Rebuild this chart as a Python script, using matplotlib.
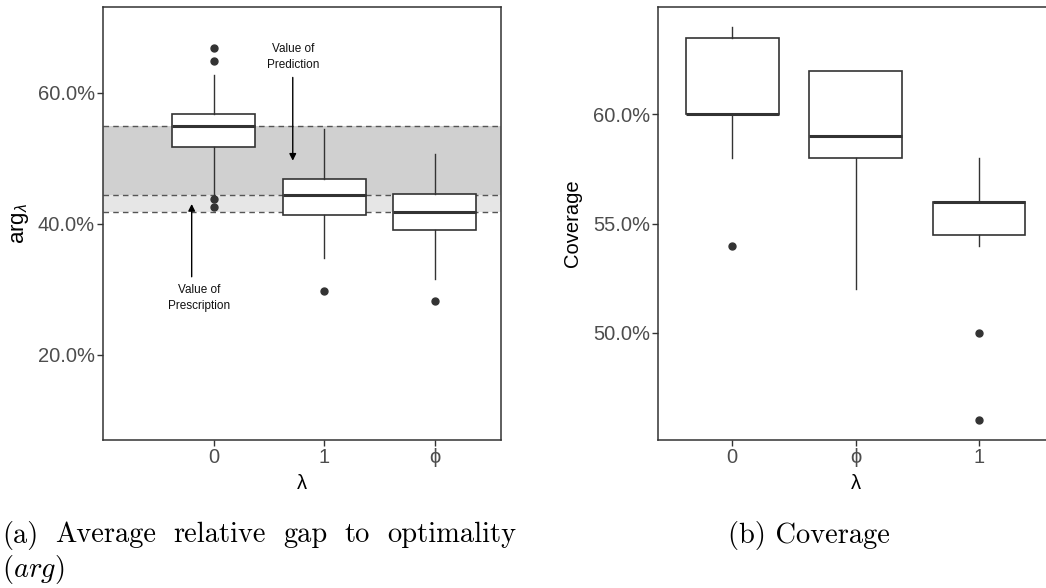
import matplotlib
matplotlib.use("Agg")
import matplotlib.pyplot as plt
from matplotlib.ticker import FuncFormatter

plt.rcParams['font.family'] = ['Liberation Sans', 'DejaVu Sans']
plt.rcParams['mathtext.fontset'] = 'custom'
plt.rcParams['mathtext.rm'] = 'Liberation Sans'
plt.rcParams['mathtext.it'] = 'Liberation Sans:italic'

# ---------------- data (values in %) ----------------
arg_labels = ["0", "1", "\u03d5"]
arg_q1 = [51.7, 41.3, 39.1]
arg_med = [54.9, 44.4, 41.8]
arg_q3 = [56.8, 46.8, 44.5]
arg_whislo = [44.2, 34.7, 31.6]
arg_whishi = [62.7, 54.5, 50.7]
arg_fliers = [[66.8, 64.8, 43.7, 42.6], [29.7], [28.2]]
arg_yticks = [20, 40, 60]

cov_labels = ["0", "\u03d5", "1"]
cov_q1 = [60.0, 58.0, 54.5]
cov_med = [60.0, 59.0, 56.0]
cov_q3 = [63.5, 62.0, 56.0]
cov_whislo = [58.0, 52.0, 54.0]
cov_whishi = [64.0, 62.0, 58.0]
cov_fliers = [[54.0], [], [50.0, 46.0]]
cov_yticks = [50, 55, 60]

# reference lines (medians used for value of prediction / prescription)
band_top = arg_med[0]
band_mid = arg_med[1]
band_low = arg_med[2]

W, H = 1046, 588
fig = plt.figure(figsize=(W / 100, H / 100), dpi=100)

dark = '#333333'
tickc = '#4d4d4d'


def make_stats(q1, med, q3, lo, hi, fl):
    return [dict(q1=a, med=b, q3=c, whislo=d, whishi=e, fliers=f)
            for a, b, c, d, e, f in zip(q1, med, q3, lo, hi, fl)]


def style_axes(ax, labels, yticks):
    for s in ax.spines.values():
        s.set_color(dark)
        s.set_linewidth(1.1)
    ax.set_xticks(range(1, len(labels) + 1))
    ax.set_xticklabels(labels)
    ax.set_yticks(yticks)
    ax.yaxis.set_major_formatter(FuncFormatter(lambda v, p: f"{v:.1f}%"))
    ax.tick_params(axis='both', colors=dark, labelcolor=tickc, labelsize=14.5,
                   length=4, width=1.0, pad=2)


def draw_box(ax, stats):
    ax.bxp(stats, positions=range(1, len(stats) + 1), widths=0.75,
           patch_artist=True, showcaps=False, zorder=3,
           boxprops=dict(facecolor='white', edgecolor=dark, linewidth=1.2),
           medianprops=dict(color=dark, linewidth=2.2),
           whiskerprops=dict(color=dark, linewidth=1.0),
           flierprops=dict(marker='o', markersize=5, markerfacecolor=dark,
                           markeredgecolor=dark))


# ---------------- left panel ----------------
ax1 = fig.add_axes([103.3 / W, 1 - 440 / H, (501 - 103.3) / W, (440 - 7.3) / H])
ax1.axhspan(band_mid, band_top, color='#d0d0d0', zorder=0, lw=0)
ax1.axhspan(band_low, band_mid, color='#e6e6e6', zorder=0, lw=0)
for yv in (band_top, band_mid, band_low):
    ax1.axhline(yv, color='#555555', lw=1.0, ls=(0, (4, 3)), zorder=1)
draw_box(ax1, make_stats(arg_q1, arg_med, arg_q3, arg_whislo, arg_whishi, arg_fliers))
ax1.set_xlim(0.0, 3.6)
ax1.set_ylim(7, 73)
style_axes(ax1, arg_labels, arg_yticks)
ax1.set_xlabel("\u03bb", fontsize=14.5, color='black', labelpad=5)
ax1.set_ylabel(r"$\mathrm{arg}_{\lambda}$", fontsize=16, color='black', labelpad=5)

arrow = dict(arrowstyle='-|>', color='black', lw=1.0, mutation_scale=10,
             shrinkA=0, shrinkB=0)
ax1.annotate("", xy=(1.715, 49.6), xytext=(1.715, 62.3), arrowprops=arrow, zorder=4)
ax1.text(1.715, 65.4, "Value of\nPrediction", ha='center', va='center',
         fontsize=8.5, linespacing=1.45, color='#111111', zorder=4)
ax1.annotate("", xy=(0.80, 43.0), xytext=(0.80, 31.9), arrowprops=arrow, zorder=4)
ax1.text(0.864, 28.7, "Value of\nPrescription", ha='center', va='center',
         fontsize=8.5, linespacing=1.45, color='#111111', zorder=4)

# ---------------- right panel ----------------
ax2 = fig.add_axes([658.3 / W, 1 - 440 / H, (1052.9 - 658.3) / W, (440 - 7.3) / H])
draw_box(ax2, make_stats(cov_q1, cov_med, cov_q3, cov_whislo, cov_whishi, cov_fliers))
ax2.set_xlim(0.4, 3.6)
ax2.set_ylim(45.1, 64.9)
style_axes(ax2, cov_labels, cov_yticks)
ax2.set_xlabel("\u03bb", fontsize=14.5, color='black', labelpad=5)
ax2.set_ylabel("Coverage", fontsize=14.5, color='black', labelpad=8)

# ---------------- captions (justified first line, like LaTeX) ----------------
cap_words = ["(a)", "Average", "relative", "gap", "to", "optimality"]
cap_fs = 20.5
renderer = fig.canvas.get_renderer()
texts = [fig.text(0, 1 - 535 / H, w, family='cmr10', fontsize=cap_fs,
                  ha='left', va='center') for w in cap_words]
widths = [t.get_window_extent(renderer).width for t in texts]
line_left, line_right = 2.0, 516.0
gap = (line_right - line_left - sum(widths)) / (len(texts) - 1)
x = line_left
for t, w in zip(texts, widths):
    t.set_x(x / W)
    x += w + gap
fig.text(2 / W, 1 - 570 / H, r"$(arg)$", math_fontfamily='cm', fontsize=cap_fs,
         ha='left', va='center')
fig.text(809 / W, 1 - 535 / H, "(b) Coverage", family='cmr10', fontsize=cap_fs,
         ha='center', va='center')

fig.savefig("out.png", dpi=100)
